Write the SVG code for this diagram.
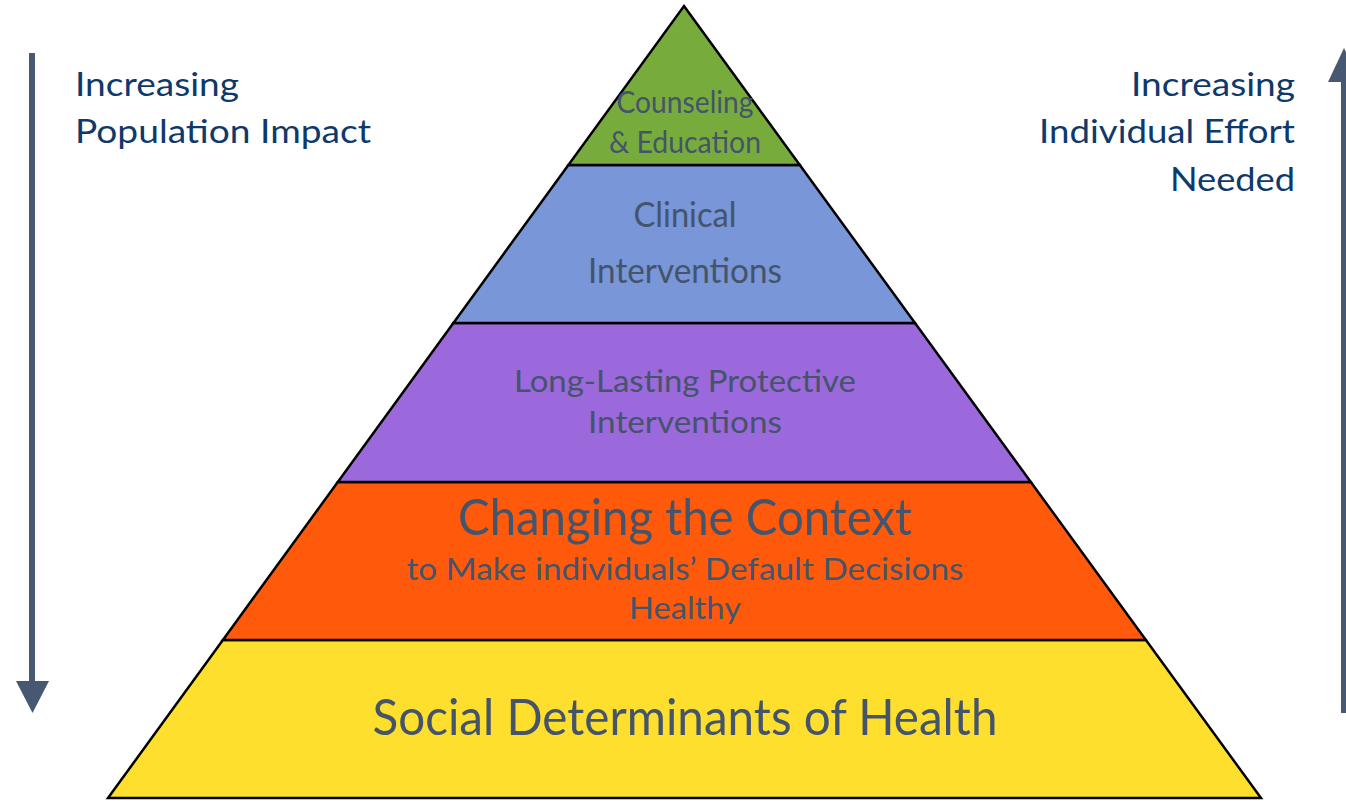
<svg xmlns="http://www.w3.org/2000/svg" width="1346" height="801" viewBox="0 0 1346 801">
<style>
.layer{stroke:#000;stroke-width:2.5;stroke-linejoin:miter}
.t{font-family:Lato,"Open Sans","Liberation Sans",sans-serif;fill:#44546A;text-anchor:middle}
.side{font-family:Lato,"Open Sans","Liberation Sans",sans-serif;fill:#0E3A6B;font-size:33px}
.arrow{fill:#475872}
</style>
<rect width="1346" height="801" fill="#fff"/>
<g id="connectors">
<g id="arrow-left">
<rect class="arrow" x="29" y="53" width="6" height="630"/>
<polygon class="arrow" points="16,681 49,681 32.5,713"/>
</g>
<g id="arrow-right">
<rect class="arrow" x="1341" y="80" width="6" height="633"/>
<polygon class="arrow" points="1328,82 1360,82 1344,48"/>
</g>
</g>
<g id="layer-social">
<polygon class="layer" fill="#FFDF2E" points="222.9,640 1145.9,640 1261,798 108,798"/>
<text class="t" x="685" y="735" font-size="50" textLength="625" lengthAdjust="spacingAndGlyphs">Social Determinants of Health</text>
</g>
<g id="layer-context">
<polygon class="layer" fill="#FF5A0C" points="337.8,482 1030.8,482 1145.9,640 222.9,640"/>
<text class="t" x="685" y="535" font-size="50" textLength="454" lengthAdjust="spacingAndGlyphs">Changing the Context</text>
<text class="t" x="685" y="580" font-size="31" textLength="557" lengthAdjust="spacingAndGlyphs">to Make individuals’ Default Decisions</text>
<text class="t" x="685" y="619" font-size="31" textLength="112" lengthAdjust="spacingAndGlyphs">Healthy</text>
</g>
<g id="layer-protective">
<polygon class="layer" fill="#9B69DB" points="453.4,323 915,323 1030.8,482 337.8,482"/>
<text class="t" x="685" y="392" font-size="31" textLength="342" lengthAdjust="spacingAndGlyphs">Long-Lasting Protective</text>
<text class="t" x="685" y="433" font-size="31" textLength="194" lengthAdjust="spacingAndGlyphs">Interventions</text>
</g>
<g id="layer-clinical">
<polygon class="layer" fill="#7896D8" points="568.4,165 799.8,165 915,323 453.4,323"/>
<text class="t" x="685" y="227" font-size="34" textLength="103" lengthAdjust="spacingAndGlyphs">Clinical</text>
<text class="t" x="685" y="283" font-size="34" textLength="194" lengthAdjust="spacingAndGlyphs">Interventions</text>
</g>
<g id="layer-counseling">
<polygon class="layer" fill="#77AC3C" points="684,6 799.8,165 568.4,165"/>
<text class="t" x="685" y="113" font-size="30" textLength="137" lengthAdjust="spacingAndGlyphs">Counseling</text>
<text class="t" x="685" y="153" font-size="30" textLength="152" lengthAdjust="spacingAndGlyphs">&amp; Education</text>
</g>
<g id="label-left">
<text class="side" x="75" y="96" textLength="164" lengthAdjust="spacingAndGlyphs">Increasing</text>
<text class="side" x="75" y="143" textLength="296" lengthAdjust="spacingAndGlyphs">Population Impact</text>
</g>
<g id="label-right">
<text class="side" x="1295" y="96" text-anchor="end" textLength="164" lengthAdjust="spacingAndGlyphs">Increasing</text>
<text class="side" x="1295" y="143" text-anchor="end" textLength="256" lengthAdjust="spacingAndGlyphs">Individual Effort</text>
<text class="side" x="1295" y="191" text-anchor="end" textLength="125" lengthAdjust="spacingAndGlyphs">Needed</text>
</g>
</svg>
